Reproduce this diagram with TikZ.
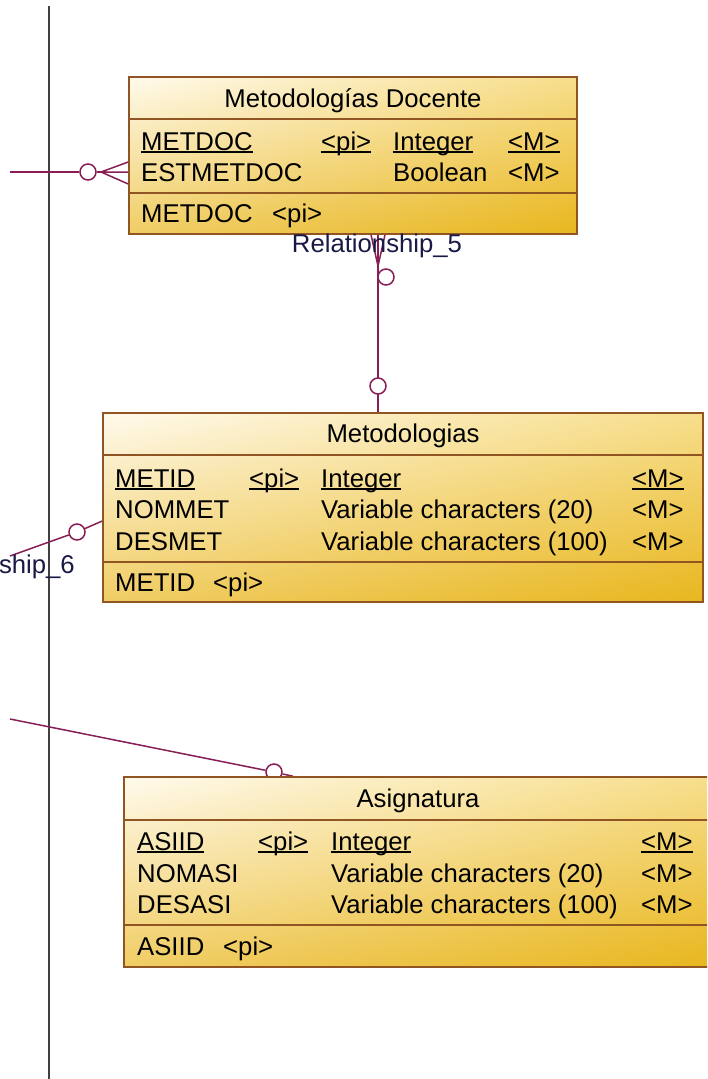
\documentclass[tikz,border=0pt]{standalone}
\usepackage{fontspec}
\setmainfont{Liberation Sans}
\usetikzlibrary{backgrounds,shadings}
\definecolor{E}{RGB}{145, 85, 35}
\definecolor{L}{RGB}{135, 30, 85}
\definecolor{N}{RGB}{25, 25, 70}
\definecolor{C}{RGB}{255, 250, 236}
\definecolor{T}{RGB}{247, 222, 140}
\definecolor{W}{RGB}{240, 205, 100}
\definecolor{O}{RGB}{232, 182, 30}
\newcommand{\keyul}[1]{\setbox0\hbox{#1}\rlap{\rule[-3pt]{\wd0}{1.6pt}}\box0}

\begin{document}
\begin{tikzpicture}[x=1pt, y=-1pt,
   entity/.style={draw=E, line width=1.5pt, shading=bilinear interpolation, upper left=C, upper right=T,
      lower left=W, lower right=O, inner sep=0pt},
   sep/.style={draw=E, line width=1.5pt},
   txt/.style={anchor=base west, inner sep=0pt, font=\fontsize{25.7}{30}\selectfont},
   ttl/.style={txt, anchor=base},
   link/.style={draw=L, line width=1.5pt},
   ring/.style={circle, draw=L, line width=1.5pt, fill=white, inner sep=0pt, minimum size=16pt}]
   \useasboundingbox (0,0) rectangle (707,1079);
   \clip (0,0) rectangle (707,1079);

   % Metodologias Docente
   \node[entity, minimum width=448, minimum height=157] (mdocente) at (353,155.5) {};
   \draw[sep] (mdocente.west |- 0,119) -- (mdocente.east |- 0,119);
   \draw[sep] (mdocente.west |- 0,193) -- (mdocente.east |- 0,193);
   \node[ttl] (md-t) at (353,107) {Metodologías Docente};
   \foreach \x/\t [count=\i] in {141/\keyul{METDOC}, 321/\keyul{<pi>}, 393/\keyul{Integer}, 508/\keyul{<M>}}
      \node[txt] (md-a\i) at (\x,150) {\t};
   \foreach \x/\t [count=\i] in {141/ESTMETDOC, 393/Boolean, 508/<M>}
      \node[txt] (md-b\i) at (\x,181) {\t};
   \node[txt] (md-k1) at (141,222) {METDOC};
   \node[txt] (md-k2) at (272,222) {<pi>};

   % Metodologias
   \node[entity, minimum width=600, minimum height=189] (metodo) at (403,507.5) {};
   \draw[sep] (metodo.west |- 0,455) -- (metodo.east |- 0,455);
   \draw[sep] (metodo.west |- 0,562) -- (metodo.east |- 0,562);
   \node[ttl] (me-t) at (403,442.5) {Metodologias};
   \foreach \x/\t [count=\i] in {115/\keyul{METID}, 249/\keyul{<pi>}, 321/\keyul{Integer}, 632/\keyul{<M>}}
      \node[txt] (me-a\i) at (\x,487) {\t};
   \foreach \x/\t [count=\i] in {115/NOMMET, 321/Variable characters (20), 632/<M>}
      \node[txt] (me-b\i) at (\x,518) {\t};
   \foreach \x/\t [count=\i] in {115/DESMET, 321/Variable characters (100), 632/<M>}
      \node[txt] (me-c\i) at (\x,550) {\t};
   \node[txt] (me-k1) at (115,591) {METID};
   \node[txt] (me-k2) at (213,591) {<pi>};

   % Asignatura
   \node[entity, minimum width=588, minimum height=190] (asignatura) at (418,872) {};
   \draw[sep] (asignatura.west |- 0,820) -- (asignatura.east |- 0,820);
   \draw[sep] (asignatura.west |- 0,925) -- (asignatura.east |- 0,925);
   \node[ttl] (as-t) at (418,807.5) {Asignatura};
   \foreach \x/\t [count=\i] in {137/\keyul{ASIID}, 258/\keyul{<pi>}, 331/\keyul{Integer}, 641/\keyul{<M>}}
      \node[txt] (as-a\i) at (\x,850) {\t};
   \foreach \x/\t [count=\i] in {137/NOMASI, 331/Variable characters (20), 641/<M>}
      \node[txt] (as-b\i) at (\x,882) {\t};
   \foreach \x/\t [count=\i] in {137/DESASI, 331/Variable characters (100), 641/<M>}
      \node[txt] (as-c\i) at (\x,913) {\t};
   \node[txt] (as-k1) at (137,955) {ASIID};
   \node[txt] (as-k2) at (223,955) {<pi>};

   % relationships
   \begin{scope}[on background layer]
   \draw[line width=2pt, color=black!75] (49,6) -- (49,1079);

   \coordinate (e4) at (10,172);
   \coordinate (f4) at (101,172);
   \node[ring] (o4) at (88,172) {};
   \draw[link] (e4) -- (o4) -- (f4);
   \draw[link] (f4) -- (mdocente.west |- 0,162) (f4) -- (mdocente.west |- 0,172)
      (f4) -- (mdocente.west |- 0,184);

   \coordinate (f5) at (378,266);
   \draw[link] (mdocente.south -| 378,0) -- (metodo.north -| 378,0);
   \draw[link] (f5) -- (mdocente.south -| 371,0) (f5) -- (mdocente.south -| 385,0);
   \node[ring] (o5a) at (386,277) {};
   \node[ring] (o5b) at (378,386) {};

   \coordinate (e6) at (10,556);
   \node[ring] (o6) at (77,532) {};
   \draw[link] (e6) -- (o6) -- (metodo.west |- 0,521);

   \coordinate (e7) at (10,719);
   \node[ring] (o7) at (274,772) {};
   \draw[link] (e7) -- (o7) -- (asignatura.north -| 293,0);
   \end{scope}

   \node[ttl, text=N] (r5) at (377,252) {Relationship\_5};
   \node[txt, anchor=base east, text=N] (r6) at (75,573) {Relationship\_6};
\end{tikzpicture}
\end{document}
